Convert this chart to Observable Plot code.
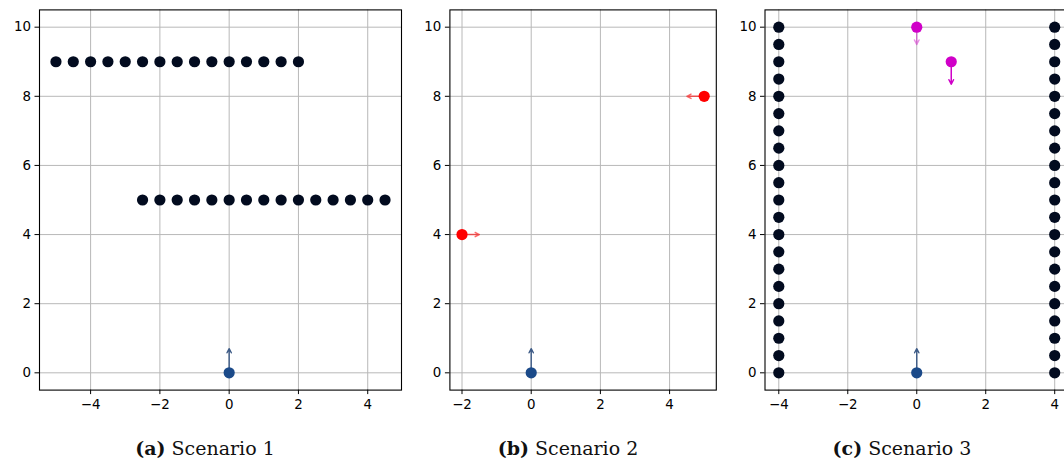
<!DOCTYPE html>
<html>
<head>
<meta charset="utf-8">
<script src="https://cdn.jsdelivr.net/npm/d3@7"></script>
<script src="https://cdn.jsdelivr.net/npm/@observablehq/plot@0.6"></script>
<style>
  html, body { margin: 0; padding: 0; background: #fff; }
  #root { position: relative; width: 1064px; height: 465px; overflow: hidden; }
  .panel { position: absolute; top: 0; }
  .panel svg { max-width: none !important; display: block; }
  .cap { position: absolute; top: 436px; font-family: "DejaVu Serif", serif; font-size: 19px; line-height: 24px; color: #111; text-align: center; width: 260px; white-space: nowrap; }
  .cap b { font-weight: bold; }
</style>
</head>
<body>
<div id="root"></div>
<script>
// ---------- data ----------
// Scenario 1: two rows of obstacles
const s1TopX = [-5, -4.5, -4, -3.5, -3, -2.5, -2, -1.5, -1, -0.5, 0, 0.5, 1, 1.5, 2];
const s1TopY = 9;
const s1MidX = [-2.5, -2, -1.5, -1, -0.5, 0, 0.5, 1, 1.5, 2, 2.5, 3, 3.5, 4, 4.5];
const s1MidY = 5;
// Scenario 2: moving agents (red)
const s2AgentX = [-2, 5];
const s2AgentY = [4, 8];
const s2AgentDX = [0.5, -0.5];
const s2AgentDY = [0, 0];
// Scenario 3: two walls + moving agents (magenta)
const s3WallY = [0, 0.5, 1, 1.5, 2, 2.5, 3, 3.5, 4, 4.5, 5, 5.5, 6, 6.5, 7, 7.5, 8, 8.5, 9, 9.5, 10];
const s3WallX = [-4, 4];
const s3AgentX = [0, 1];
const s3AgentY = [10, 9];
const s3AgentDX = [0, 0];
const s3AgentDY = [-0.5, -0.65];
const s3AgentAlpha = [0.45, 1];
// Ego robot (all scenarios)
const egoX = 0, egoY = 0, egoDX = 0, egoDY = 0.7;

const xTicksA = [-4, -2, 0, 2, 4];
const xTicksB = [-2, 0, 2, 4];
const xTicksC = [-4, -2, 0, 2, 4];
const yTicks = [0, 2, 4, 6, 8, 10];

const captions = [
  {tag: "(a)", text: "Scenario 1"},
  {tag: "(b)", text: "Scenario 2"},
  {tag: "(c)", text: "Scenario 3"}
];

// ---------- styles ----------
const NAVY = "#020b1f";
const BLUE = "#1b4a89";
const ARROW_BLUE = "#3c5a86";
const RED = "#ff0000";
const MAG = "#d000c8";
const GRID = "#b8b8b8";
const R = 5.6;

function base(xDomain, xTicks, opts) {
  return {
    width: opts.width,
    height: 420,
    marginLeft: opts.ml,
    marginRight: opts.mr,
    marginTop: 9.4,
    marginBottom: 30.4,
    style: {fontFamily: "'DejaVu Sans', sans-serif", fontSize: "13.4px", color: "#000", background: "transparent", overflow: "visible"},
    x: {domain: xDomain, ticks: xTicks},
    y: {domain: [-0.5, 10.5], ticks: yTicks}
  };
}

function axesMarks(xTicks) {
  return [
    Plot.gridX(xTicks, {stroke: GRID, strokeOpacity: 1, strokeWidth: 1}),
    Plot.gridY(yTicks, {stroke: GRID, strokeOpacity: 1, strokeWidth: 1}),
    Plot.axisX(xTicks, {label: null, tickSize: 4.5, tickPadding: 5, fontSize: 13.4}),
    Plot.axisY(yTicks, {label: null, tickSize: 4.5, tickPadding: 4, fontSize: 13.4}),
    Plot.frame({stroke: "#000", strokeWidth: 1.1})
  ];
}

function egoMarks() {
  return [
    Plot.arrow([{x: egoX, y: egoY, dx: egoDX, dy: egoDY}], {
      x1: "x", y1: "y", x2: d => d.x + d.dx, y2: d => d.y + d.dy,
      stroke: ARROW_BLUE, strokeWidth: 1.4, headLength: 5, headAngle: 55
    }),
    Plot.dot([{x: egoX, y: egoY}], {x: "x", y: "y", r: R, fill: BLUE})
  ];
}

const root = document.getElementById("root");

function place(svg, left, width) {
  const d = document.createElement("div");
  d.className = "panel";
  d.style.left = left + "px";
  d.style.width = width + "px";
  d.appendChild(svg);
  root.appendChild(d);
}

// Panel (a)
{
  const top = s1TopX.map(x => ({x, y: s1TopY}));
  const mid = s1MidX.map(x => ({x, y: s1MidY}));
  const p = Plot.plot({
    ...base([-5.475, 4.975], xTicksA, {width: 410, ml: 39, mr: 9}),
    marks: [
      ...axesMarks(xTicksA),
      Plot.dot(top.concat(mid), {x: "x", y: "y", r: R, fill: NAVY}),
      ...egoMarks()
    ]
  });
  place(p, 0, 410);
}

// Panel (b)
{
  const agents = s2AgentX.map((x, i) => ({x, y: s2AgentY[i], dx: s2AgentDX[i], dy: s2AgentDY[i]}));
  const p = Plot.plot({
    ...base([-2.35, 5.35], xTicksB, {width: 310, ml: 39.4, mr: 4.2}),
    marks: [
      ...axesMarks(xTicksB),
      Plot.arrow(agents, {x1: "x", y1: "y", x2: d => d.x + d.dx, y2: d => d.y + d.dy,
        stroke: RED, strokeOpacity: 0.6, strokeWidth: 1.4, headLength: 5, headAngle: 55}),
      Plot.dot(agents, {x: "x", y: "y", r: R, fill: RED}),
      ...egoMarks()
    ]
  });
  place(p, 410, 310);
}

// Panel (c)
{
  const walls = [];
  s3WallX.forEach(x => s3WallY.forEach(y => walls.push({x, y})));
  const agents = s3AgentX.map((x, i) => ({x, y: s3AgentY[i], dx: s3AgentDX[i], dy: s3AgentDY[i], a: s3AgentAlpha[i]}));
  const p = Plot.plot({
    ...base([-4.4, 4.4], xTicksC, {width: 360, ml: 44.5, mr: 12}),
    marks: [
      ...axesMarks(xTicksC),
      Plot.dot(walls, {x: "x", y: "y", r: R, fill: NAVY}),
      Plot.arrow(agents, {x1: "x", y1: "y", x2: d => d.x + d.dx, y2: d => d.y + d.dy,
        stroke: MAG, strokeOpacity: "a", strokeWidth: 1.5, headLength: 5, headAngle: 55}),
      Plot.dot(agents, {x: "x", y: "y", r: R, fill: MAG}),
      ...egoMarks()
    ]
  });
  place(p, 720, 360);
}

// Captions
const capCenters = [205, 568, 902];
captions.forEach((c, i) => {
  const d = document.createElement("div");
  d.className = "cap";
  d.style.left = (capCenters[i] - 130) + "px";
  d.innerHTML = "<b>" + c.tag + "</b> " + c.text;
  root.appendChild(d);
});
</script>
</body>
</html>
